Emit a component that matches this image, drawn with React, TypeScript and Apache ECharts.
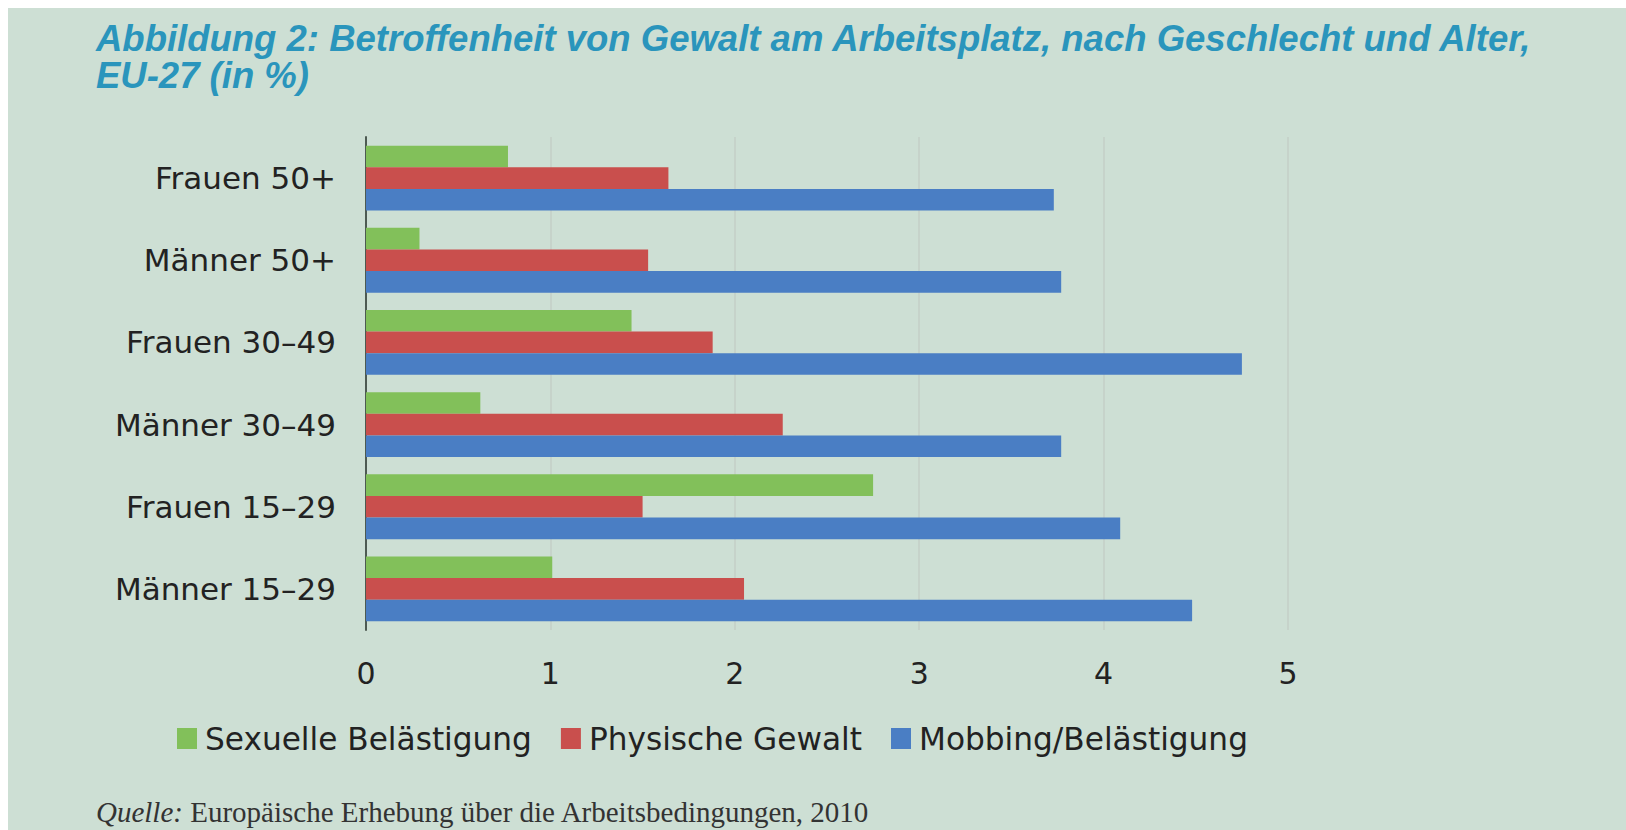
import React, { useEffect, useRef } from "react";
import * as echarts from "echarts";

const categories = ["Frauen 50+", "Männer 50+", "Frauen 30–49", "Männer 30–49", "Frauen 15–29", "Männer 15–29"];
const sexuelle = [0.77, 0.29, 1.44, 0.62, 2.75, 1.01];
const physische = [1.64, 1.53, 1.88, 2.26, 1.5, 2.05];
const mobbing = [3.73, 3.77, 4.75, 3.77, 4.09, 4.48];
const seriesNames = ["Sexuelle Belästigung", "Physische Gewalt", "Mobbing/Belästigung"];
const xTicks = [0, 1, 2, 3, 4, 5];

const titleLine1 = "Abbildung 2: Betroffenheit von Gewalt am Arbeitsplatz, nach Geschlecht und Alter,";
const titleLine2 = "EU-27 (in %)";
const sourceLabel = "Quelle:";
const sourceText = " Europäische Erhebung über die Arbeitsbedingungen, 2010";

const colors = ["#82c05a", "#c94f4d", "#4a7ec4"];
const font = "DejaVu Sans";

const titleStyle = {
  fontFamily: "Liberation Sans",
  fontStyle: "italic",
  fontWeight: "bold",
  fontSize: 36.5,
  lineHeight: 36,
  color: "#2a95bc",
};

export default function App() {
  const ref = useRef<HTMLDivElement>(null);
  useEffect(() => {
    if (!ref.current) return;
    const chart = echarts.init(ref.current, undefined, { renderer: "svg" });
    const data = [sexuelle, physische, mobbing];
    chart.setOption({
      animation: false,
      backgroundColor: "#cddfd4",
      title: [
        { text: titleLine1, left: 88, top: 12, padding: 0, textStyle: titleStyle },
        { text: titleLine2, left: 88, top: 49, padding: 0, textStyle: titleStyle },
      ],
      legend: {
        data: seriesNames,
        left: 169,
        top: 715,
        padding: 0,
        itemWidth: 20,
        itemHeight: 21,
        itemGap: 29,
        icon: "rect",
        textStyle: { fontFamily: font, fontSize: 31.2, color: "#222", padding: [0, 0, 0, 3] },
      },
      grid: { left: 358, right: 338, top: 129, bottom: 200, containLabel: false },
      xAxis: {
        type: "value",
        min: xTicks[0],
        max: xTicks[xTicks.length - 1],
        interval: 1,
        axisLine: { show: false },
        axisTick: { show: false },
        axisLabel: { fontFamily: font, fontSize: 30, color: "#222", margin: 28 },
        splitLine: { show: true, lineStyle: { color: "#c6d3ca", width: 2 } },
      },
      yAxis: {
        type: "category",
        data: categories,
        inverse: true,
        axisLine: { show: true, lineStyle: { color: "#4d5a52", width: 2 } },
        axisTick: { show: false },
        axisLabel: { fontFamily: font, fontSize: 31, color: "#222", margin: 30 },
      },
      series: seriesNames.map((name, i) => ({
        name,
        type: "bar",
        data: data[i],
        barGap: "0%",
        barCategoryGap: "21%",
        itemStyle: { color: colors[i] },
      })),
      graphic: [
        {
          type: "text",
          left: 88,
          top: 789,
          style: {
            text: `{i|${sourceLabel}}{n|${sourceText}}`,
            rich: {
              i: { fontFamily: "Liberation Serif", fontStyle: "italic", fontSize: 29, lineHeight: 28, fill: "#333" },
              n: { fontFamily: "Liberation Serif", fontSize: 29, lineHeight: 28, fill: "#333" },
            },
          },
        },
      ],
    });
    return () => chart.dispose();
  }, []);
  return (
    <div
      ref={ref}
      style={{ position: "absolute", left: 8, top: 8, width: 1618, height: 822 }}
    />
  );
}
